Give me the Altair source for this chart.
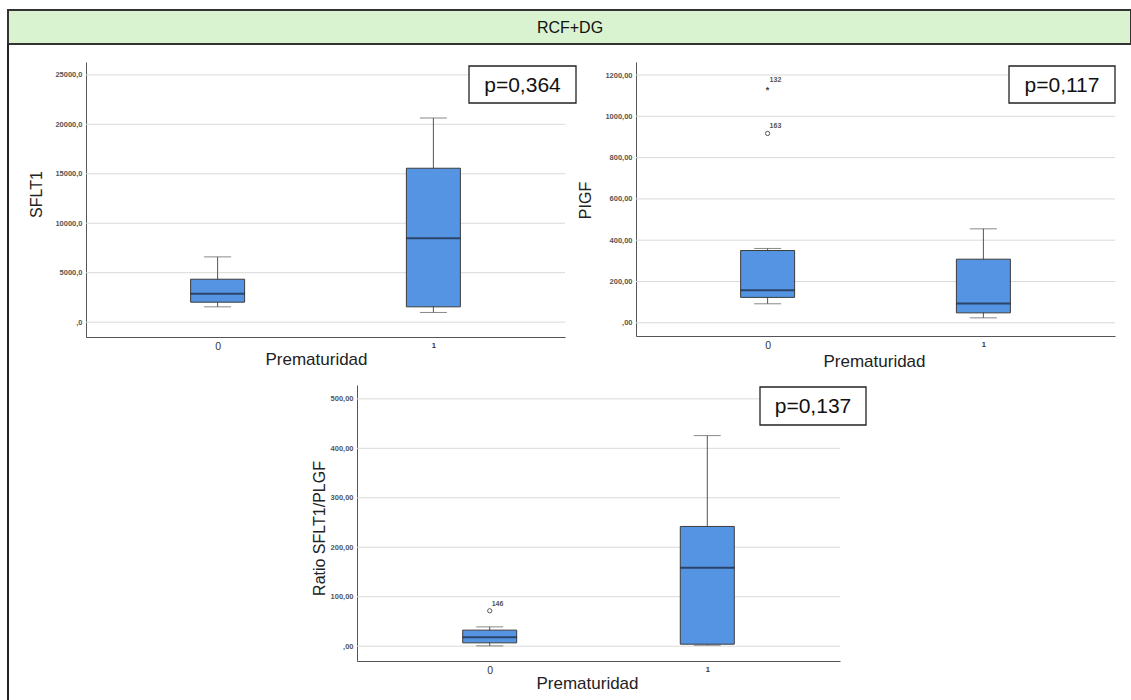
import altair as alt
import pandas as pd

# ---------------- data ----------------
header_text = "RCF+DG"
groups = ["0", "1"]
x_title = "Prematuridad"
y_titles = ["SFLT1", "PIGF", "Ratio SFLT1/PLGF"]
p_labels = ["p=0,364", "p=0,117", "p=0,137"]

# SFLT1 boxplot summaries (group 0, group 1)
sflt1_low = [1550, 980]
sflt1_q1 = [2020, 1550]
sflt1_median = [2860, 8485]
sflt1_q3 = [4340, 15560]
sflt1_high = [6600, 20640]
sflt1_ticks = [0, 5000, 10000, 15000, 20000, 25000]
sflt1_tick_labels = [",0", "5000,0", "10000,0", "15000,0", "20000,0", "25000,0"]
sflt1_out_group = []
sflt1_out_value = []
sflt1_out_case = []
sflt1_out_marker = []

# PIGF
pigf_low = [92, 24]
pigf_q1 = [123, 48]
pigf_median = [157, 94]
pigf_q3 = [350, 308]
pigf_high = [360, 455]
pigf_ticks = [0, 200, 400, 600, 800, 1000, 1200]
pigf_tick_labels = [",00", "200,00", "400,00", "600,00", "800,00", "1000,00", "1200,00"]
pigf_out_group = ["0", "0"]
pigf_out_value = [1141, 917]
pigf_out_case = ["132", "163"]
pigf_out_marker = ["*", "o"]

# Ratio SFLT1/PLGF
ratio_low = [0.6, 2]
ratio_q1 = [6.7, 4]
ratio_median = [18.2, 158.5]
ratio_q3 = [32.4, 242]
ratio_high = [39, 425.7]
ratio_ticks = [0, 100, 200, 300, 400, 500]
ratio_tick_labels = [",00", "100,00", "200,00", "300,00", "400,00", "500,00"]
ratio_out_group = ["0"]
ratio_out_value = [71.5]
ratio_out_case = ["146"]
ratio_out_marker = ["o"]

# ---------------- styles / layout ----------------
FONT = "Liberation Sans"
BOX_FILL = "#5494e3"
BOX_STROKE = "#3c3c3c"
WHISKER = "#555555"
GRID = "#d9d9d9"
AXIS = "#555555"

layouts = [
    dict(xr=[86, 565], yr=[337, 62], yd=[-1500, 26300], ytx=-50, yty=194, xtx=316, xty=22,
         pb=(469, 576, 66, 103)),
    dict(xr=[636, 1115], yr=[336, 62], yd=[-64, 1263], ytx=-51, yty=200, xtx=874, xty=25,
         pb=(1009, 1115, 66, 103)),
    dict(xr=[357, 840], yr=[661, 385], yd=[-30, 528], ytx=-38, yty=528, xtx=587, xty=22,
         pb=(760, 866, 387, 425)),
]


def label_expr(ticks, labels):
    expr = "''"
    for t, l in zip(ticks, labels):
        expr = f"datum.value == {t} ? '{l}' : ({expr})"
    return expr


def panel(i, low, q1, med, q3, high, ticks, tick_labels, og, ov, oc, om):
    lay = layouts[i]
    df = pd.DataFrame({"group": groups, "low": low, "q1": q1, "median": med,
                       "q3": q3, "high": high})
    xs = alt.Scale(type="point", domain=groups, range=lay["xr"], padding=0.61)
    ys = alt.Scale(domain=lay["yd"], range=lay["yr"], nice=False, zero=False)

    x_axis = alt.Axis(
        orient="bottom", offset=lay["yr"][0] - 700, title=x_title, labelAngle=0,
        ticks=False, tickSize=0, grid=False, domainColor=AXIS, domainWidth=1,
        labelFont=FONT, labelColor="#333333", labelPadding=4,
        labelFontSize={"condition": {"test": "datum.value === '0'", "value": 10.5}, "value": 7.5},
        labelFontWeight={"condition": {"test": "datum.value === '0'", "value": "normal"}, "value": "bold"},
        titleFont=FONT, titleFontSize=17, titleFontWeight="normal", titleColor="#222222",
        titleX=lay["xtx"], titleY=lay["xty"], titleBaseline="middle", titleAnchor="middle",
    )
    y_axis = alt.Axis(
        orient="left", offset=-lay["xr"][0], title=y_titles[i], values=ticks,
        labelExpr=label_expr(ticks, tick_labels), ticks=False, tickSize=0, grid=False,
        domainColor=AXIS, domainWidth=1, labelFont=FONT, labelFontSize=7.5,
        labelFontWeight="bold", labelColor="#555555", labelPadding=4,
        titleFont=FONT, titleFontSize=16, titleFontWeight="normal", titleColor="#222222",
        titleX=lay["ytx"], titleY=lay["yty"], titleBaseline="middle", titleAngle=270,
    )

    grid_df = pd.DataFrame({"tick": ticks})
    grid = alt.Chart(grid_df).mark_rule(color=GRID, strokeWidth=1).encode(
        y=alt.Y("tick:Q", scale=ys, axis=y_axis),
        x=alt.value(lay["xr"][0]), x2=alt.value(lay["xr"][1]),
    )

    base = alt.Chart(df)
    whisk = base.mark_rule(color=WHISKER, strokeWidth=1).encode(
        x=alt.X("group:N", scale=xs, axis=x_axis),
        y=alt.Y("low:Q", scale=ys, axis=None), y2="high:Q")
    cap_lo = base.mark_tick(orient="horizontal", size=27, thickness=1, color=WHISKER).encode(
        x=alt.X("group:N", scale=xs, axis=None), y=alt.Y("low:Q", scale=ys, axis=None))
    cap_hi = base.mark_tick(orient="horizontal", size=27, thickness=1, color=WHISKER).encode(
        x=alt.X("group:N", scale=xs, axis=None), y=alt.Y("high:Q", scale=ys, axis=None))
    box = base.mark_bar(size=54, fill=BOX_FILL, stroke=BOX_STROKE, strokeWidth=1).encode(
        x=alt.X("group:N", scale=xs, axis=None), y=alt.Y("q1:Q", scale=ys, axis=None), y2="q3:Q")
    med_t = base.mark_tick(orient="horizontal", size=54, thickness=2, color="#1a2233").encode(
        x=alt.X("group:N", scale=xs, axis=None), y=alt.Y("median:Q", scale=ys, axis=None))

    layers = [grid, whisk, cap_lo, cap_hi, box, med_t]

    if og:
        odf = pd.DataFrame({"group": og, "value": ov, "case": oc, "marker": om})
        ob = alt.Chart(odf)
        circ = ob.transform_filter("datum.marker == 'o'").mark_point(
            shape="circle", filled=False, size=18, color="#555555", strokeWidth=1, opacity=1
        ).encode(x=alt.X("group:N", scale=xs, axis=None),
                 y=alt.Y("value:Q", scale=ys, axis=None))
        star = ob.transform_filter("datum.marker == '*'").mark_text(
            font=FONT, fontSize=9, fontWeight="bold", color="#444444", baseline="middle", dy=3
        ).encode(x=alt.X("group:N", scale=xs, axis=None),
                 y=alt.Y("value:Q", scale=ys, axis=None), text="marker:N")
        lab = ob.mark_text(
            font=FONT, fontSize=7, fontWeight="bold", color="#555555", align="left",
            baseline="middle", dx=2, dy=-7
        ).encode(x=alt.X("group:N", scale=xs, axis=None),
                 y=alt.Y("value:Q", scale=ys, axis=None), text="case:N")
        layers += [circ, star, lab]

    x0, x1, y0, y1 = lay["pb"]
    pdf = pd.DataFrame({"p": [p_labels[i]]})
    prect = alt.Chart(pdf).mark_rect(fill="white", stroke="#222222", strokeWidth=1.3).encode(
        x=alt.value(x0), x2=alt.value(x1), y=alt.value(y0), y2=alt.value(y1))
    ptext = alt.Chart(pdf).mark_text(
        font=FONT, fontSize=21, color="#111111", align="center", baseline="middle"
    ).encode(x=alt.value((x0 + x1) / 2), y=alt.value((y0 + y1) / 2 + 1), text="p:N")
    layers += [prect, ptext]

    return layers


hdf = pd.DataFrame({"t": [header_text]})
header_rect = alt.Chart(hdf).mark_rect(fill="#d9f2d0", stroke="#333333", strokeWidth=2).encode(
    x=alt.value(8), x2=alt.value(1131), y=alt.value(10), y2=alt.value(44))
header_label = alt.Chart(hdf).mark_text(
    font="Liberation Sans Narrow, Liberation Sans", fontSize=16, color="#111111",
    align="center", baseline="middle"
).encode(x=alt.value(570), y=alt.value(28), text="t:N")
left_border = alt.Chart(hdf).mark_rule(color="#222222", strokeWidth=2).encode(
    x=alt.value(8), y=alt.value(44), y2=alt.value(700))

p1 = panel(0, sflt1_low, sflt1_q1, sflt1_median, sflt1_q3, sflt1_high, sflt1_ticks,
           sflt1_tick_labels, sflt1_out_group, sflt1_out_value, sflt1_out_case, sflt1_out_marker)
p2 = panel(1, pigf_low, pigf_q1, pigf_median, pigf_q3, pigf_high, pigf_ticks,
           pigf_tick_labels, pigf_out_group, pigf_out_value, pigf_out_case, pigf_out_marker)
p3 = panel(2, ratio_low, ratio_q1, ratio_median, ratio_q3, ratio_high, ratio_ticks,
           ratio_tick_labels, ratio_out_group, ratio_out_value, ratio_out_case, ratio_out_marker)

chart = alt.layer(header_rect, header_label, left_border, *p1, *p2, *p3).resolve_scale(
    x="independent", y="independent"
).properties(
    width=1131, height=700, padding=0, autosize=alt.AutoSizeParams(type="none"),
    background="white",
).configure_view(stroke=None)

chart.save("out.html", embed_options={"renderer": "svg", "actions": False})
